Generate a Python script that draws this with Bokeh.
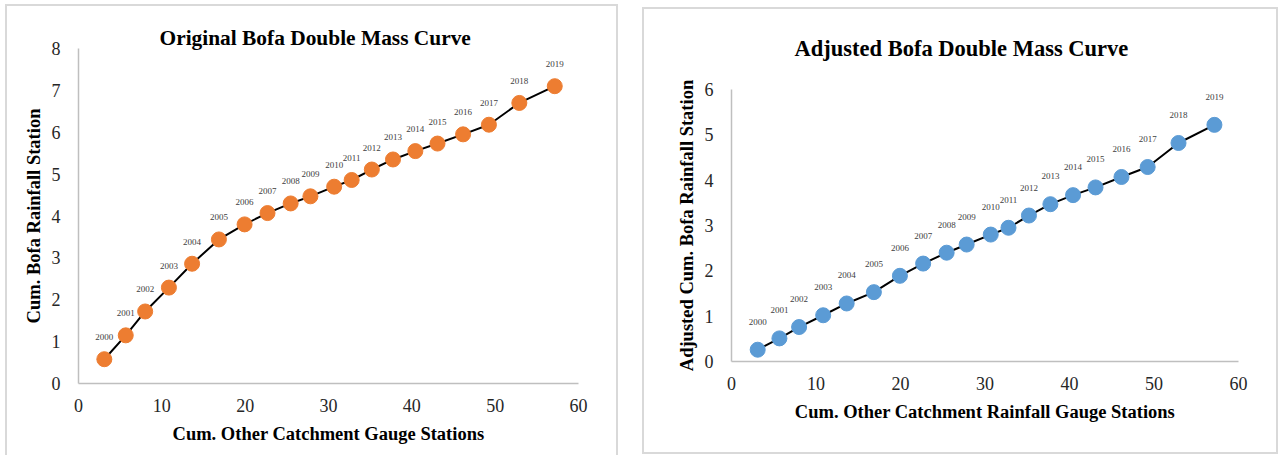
from bokeh.plotting import figure
from bokeh.layouts import row
from bokeh.models import ColumnDataSource, Range1d, FixedTicker, Title
from bokeh.embed import file_html
from bokeh.resources import INLINE
from bokeh.core.properties import value

years = [str(y) for y in range(2000, 2020)]
cum_other = [3.1, 5.67, 8.0, 10.85, 13.63, 16.85, 19.93, 22.68, 25.46, 27.83,
             30.68, 32.78, 35.2, 37.74, 40.42, 43.08, 46.15, 49.25, 52.9, 57.15]
cum_bofa_orig = [0.58, 1.15, 1.72, 2.29, 2.86, 3.44, 3.80, 4.07, 4.30, 4.47,
                 4.70, 4.86, 5.11, 5.35, 5.55, 5.73, 5.95, 6.18, 6.70, 7.10]
cum_bofa_adj = [0.26, 0.51, 0.76, 1.02, 1.28, 1.53, 1.89, 2.16, 2.40, 2.58,
                2.80, 2.95, 3.22, 3.47, 3.67, 3.84, 4.07, 4.29, 4.82, 5.22]
x_ticks = [0, 10, 20, 30, 40, 50, 60]
y_ticks_orig = [0, 1, 2, 3, 4, 5, 6, 7, 8]
y_ticks_adj = [0, 1, 2, 3, 4, 5, 6]

SERIF = "Liberation Serif"


def make_panel(width, height, ymax, yticks, yvals, color, borders, title, title_size,
               title_offset, title_standoff, title_valign, xlabel, ylabel, label_offset,
               margin, border_css):
    bl, br, bt, bb = borders
    p = figure(width=width, height=height, x_range=Range1d(0, 60), y_range=Range1d(0, ymax),
               output_backend="svg", toolbar_location=None,
               min_border_left=bl, min_border_right=br, min_border_top=bt, min_border_bottom=bb,
               margin=margin, styles=border_css)
    p.frame_align = False
    p.outline_line_color = None
    p.xgrid.grid_line_color = None
    p.ygrid.grid_line_color = None
    p.xaxis.ticker = FixedTicker(ticks=x_ticks)
    p.yaxis.ticker = FixedTicker(ticks=yticks)
    for ax in (p.xaxis[0], p.yaxis[0]):
        ax.major_tick_line_color = None
        ax.minor_tick_line_color = None
        ax.axis_line_color = "#bfbfbf"
        ax.axis_line_width = 1.5
        ax.major_label_text_font = SERIF
        ax.major_label_text_font_size = "18px"
        ax.major_label_text_color = "#262626"
        ax.axis_label_text_font = SERIF
        ax.axis_label_text_font_style = "bold"
        ax.axis_label_text_font_size = "18.5px"
        ax.axis_label_text_color = "#000000"
    p.xaxis.major_label_standoff = 9
    p.yaxis.major_label_standoff = 12
    p.xaxis.axis_label = xlabel
    p.xaxis.axis_label_standoff = 9
    p.yaxis.axis_label = ylabel
    p.yaxis.axis_label_standoff = 5

    src = ColumnDataSource(dict(x=cum_other, y=yvals, year=years))
    p.line("x", "y", source=src, line_color="black", line_width=2)
    p.scatter("x", "y", source=src, size=15, fill_color=color, line_color=color)
    p.text("x", "y", text="year", source=src, text_align="center", text_baseline="middle",
           y_offset=-label_offset, text_font=value(SERIF), text_font_size="9px",
           text_color="#404040")

    p.title = Title(text=title, align="left", offset=title_offset, standoff=title_standoff,
                    vertical_align=title_valign,
                    text_font=SERIF, text_font_style="bold", text_font_size=title_size,
                    text_color="#000000")
    return p


left_css = {"border": "2px solid #d9d9d9", "border-bottom": "none", "box-sizing": "content-box"}
right_css = {"border": "2px solid #d9d9d9", "box-sizing": "content-box"}

p1 = make_panel(609, 449, 8, y_ticks_orig, cum_bofa_orig, "#ED7D31", (71, 42, 42, 74),
                "Original Bofa Double Mass Curve", "21.4px", 81, -3, "bottom",
                "Cum. Other Catchment Gauge Stations", "Cum. Bofa Rainfall Station",
                22, (4, 0, 0, 5), left_css)
p2 = make_panel(632, 443, 6, y_ticks_adj, cum_bofa_adj, "#5B9BD5", (87, 42, 79, 95),
                "Adjusted Bofa Double Mass Curve", "22.5px", 63, 53, "top",
                "Cum. Other Catchment Rainfall Gauge Stations", "Adjusted Cum. Bofa Rainfall Station",
                28, (7, 0, 0, 24), right_css)

layout = row(p1, p2, spacing=0)
open("out.html", "w").write(file_html(layout, INLINE))
